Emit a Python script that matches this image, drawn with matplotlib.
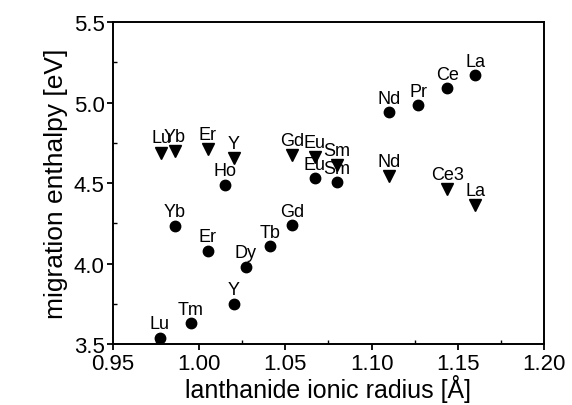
import matplotlib.pyplot as plt
from matplotlib.ticker import MultipleLocator, FormatStrFormatter

plt.rcParams['font.family'] = ['Liberation Sans', 'DejaVu Sans']

# filled circles
circ_names = ['Lu', 'Tm', 'Y', 'Dy', 'Tb', 'Gd', 'Er', 'Yb', 'Ho', 'Eu', 'Sm', 'Nd', 'Pr', 'Ce', 'La']
circ_r = [0.977, 0.995, 1.020, 1.027, 1.041, 1.054, 1.005, 0.986, 1.015, 1.067, 1.080, 1.110, 1.127, 1.144, 1.160]
circ_h = [3.54, 3.63, 3.75, 3.98, 4.11, 4.24, 4.08, 4.235, 4.49, 4.53, 4.505, 4.94, 4.985, 5.09, 5.17]

# down triangles
tri_names = ['Lu', 'Yb', 'Er', 'Y', 'Gd', 'Eu', 'Sm', 'Nd', 'Ce3', 'La']
tri_r = [0.978, 0.986, 1.005, 1.020, 1.054, 1.067, 1.080, 1.110, 1.144, 1.160]
tri_h = [4.69, 4.70, 4.71, 4.655, 4.675, 4.66, 4.61, 4.545, 4.465, 4.365]

fig = plt.figure(figsize=(5.72, 4.06), dpi=100)
ax = fig.add_axes([0.1976, 0.150, 0.7534, 0.793])

ax.plot(circ_r, circ_h, 'o', color='black', markersize=7.5, linestyle='none')
ax.plot(tri_r, tri_h, 'v', color='black', markersize=8.5, linestyle='none')

#labels sit just above each marker
for n, x, y in zip(circ_names, circ_r, circ_h):
    ax.annotate(n, (x, y), xytext=(0, 10), textcoords='offset points',
                ha='center', va='center', fontsize=13)
for n, x, y in zip(tri_names, tri_r, tri_h):
    ax.annotate(n, (x, y), xytext=(0, 10.5), textcoords='offset points',
                ha='center', va='center', fontsize=13)

ax.set_xlim(0.95, 1.20)
ax.set_ylim(3.5, 5.5)
ax.xaxis.set_major_locator(MultipleLocator(0.05))
ax.xaxis.set_minor_locator(MultipleLocator(0.025))
ax.yaxis.set_major_locator(MultipleLocator(0.5))
ax.yaxis.set_minor_locator(MultipleLocator(0.25))
ax.xaxis.set_major_formatter(FormatStrFormatter('%.2f'))
ax.yaxis.set_major_formatter(FormatStrFormatter('%.1f'))
ax.tick_params(which='major', direction='out', length=4, width=1.3, labelsize=16, pad=2)
ax.tick_params(axis='x', which='major', pad=2.5)
ax.tick_params(which='minor', direction='in', length=3, width=1.0)

for s in ax.spines.values():
    s.set_linewidth(1.4)

ax.set_xlabel('lanthanide ionic radius [Å]', fontsize=18, labelpad=0)
ax.set_ylabel('migration enthalpy [eV]', fontsize=19, labelpad=4)

plt.savefig('out.png', dpi=100)
